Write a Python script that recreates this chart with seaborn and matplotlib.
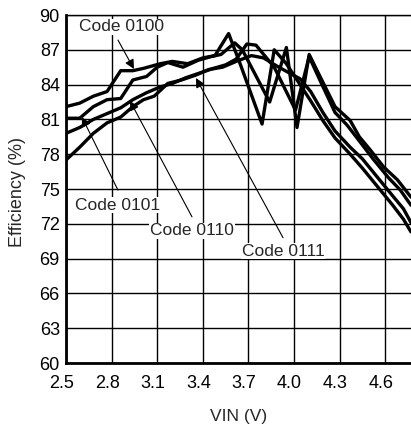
import numpy as np
import pandas as pd
import matplotlib
matplotlib.use("Agg")
import matplotlib.pyplot as plt
import matplotlib.transforms as mtransforms
import seaborn as sns

# efficiency curves (VIN in V, efficiency in %)
vin_0100 = [2.50, 2.59, 2.68, 2.77, 2.86, 2.94, 3.01, 3.12, 3.20, 3.30, 3.40, 3.48, 3.57, 3.64,
            3.79, 3.87, 3.95, 4.04, 4.11, 4.19, 4.27, 4.37, 4.45, 4.55, 4.65, 4.72, 4.77]
eff_0100 = [82.1, 82.4, 83.0, 83.4, 85.2, 85.2, 85.4, 85.8, 86.0, 85.8, 86.3, 86.5, 88.4, 86.0,
            80.6, 87.0, 85.8, 84.0, 82.6, 80.9, 79.4, 78.0, 76.8, 75.2, 73.6, 72.4, 71.3]

vin_0101 = [2.50, 2.59, 2.68, 2.77, 2.86, 2.94, 3.03, 3.10, 3.17, 3.27, 3.37, 3.45, 3.52, 3.61,
            3.66, 3.84, 3.95, 4.02, 4.10, 4.16, 4.27, 4.37, 4.43, 4.50, 4.59, 4.68, 4.77]
eff_0101 = [81.1, 81.1, 82.1, 82.7, 82.8, 84.4, 84.7, 85.5, 85.9, 85.5, 86.1, 86.4, 86.6, 87.6,
            87.0, 82.5, 87.2, 80.3, 86.6, 85.0, 82.1, 80.9, 79.5, 78.4, 76.9, 75.8, 74.3]

vin_0110 = [2.50, 2.59, 2.68, 2.77, 2.86, 2.94, 3.03, 3.12, 3.20, 3.29, 3.38, 3.47, 3.55, 3.62,
            3.69, 3.75, 3.87, 4.01, 4.10, 4.17, 4.27, 4.35, 4.45, 4.52, 4.62, 4.70, 4.77]
eff_0110 = [79.8, 80.3, 81.0, 81.5, 82.0, 82.7, 83.3, 83.8, 84.1, 84.6, 85.0, 85.4, 85.7, 86.2,
            87.5, 87.4, 85.5, 81.8, 86.4, 84.4, 81.6, 80.5, 78.8, 77.6, 76.0, 74.9, 73.6]

vin_0111 = [2.50, 2.59, 2.68, 2.77, 2.86, 2.94, 3.01, 3.08, 3.17, 3.26, 3.35, 3.44, 3.53, 3.62,
            3.72, 3.80, 3.90, 4.04, 4.11, 4.19, 4.27, 4.37, 4.45, 4.55, 4.65, 4.72, 4.77]
eff_0111 = [77.5, 78.6, 79.8, 80.7, 81.2, 82.1, 82.7, 83.0, 84.1, 84.4, 84.8, 85.3, 85.5, 86.0,
            86.5, 86.3, 85.5, 84.5, 83.4, 81.6, 80.0, 78.6, 77.6, 76.0, 74.4, 73.3, 72.1]

codes = ["Code 0100", "Code 0101", "Code 0110", "Code 0111"]
x_ticks = [2.5, 2.8, 3.1, 3.4, 3.7, 4.0, 4.3, 4.6]
y_ticks = [60, 63, 66, 69, 72, 75, 78, 81, 84, 87, 90]

frames = []
for code, v, e in zip(codes, [vin_0100, vin_0101, vin_0110, vin_0111],
                      [eff_0100, eff_0101, eff_0110, eff_0111]):
    frames.append(pd.DataFrame({"vin": v, "eff": e, "code": code}))
df = pd.concat(frames, ignore_index=True)

sns.set_style("white")
plt.rcParams["font.family"] = ["Liberation Sans", "DejaVu Sans"]

fig = plt.figure(figsize=(4.11, 4.30), dpi=100)
ax = fig.add_axes([66 / 411, 67 / 430, 1 - 66 / 411, 348 / 430])

sns.lineplot(data=df, x="vin", y="eff", hue="code", palette=["black"] * 4,
             sort=False, estimator=None, legend=False, lw=2.4, ax=ax, zorder=3)

ax.set_xlim(2.5, 4.77)
ax.set_ylim(60, 90)
ax.set_xticks(x_ticks)
ax.set_xticklabels([f"{t:.1f}" for t in x_ticks])
ax.set_yticks(y_ticks)
ax.grid(True, color="black", lw=1.0)
ax.tick_params(length=0, labelsize=13, colors="black")
ax.tick_params(axis="x", pad=9)
ax.tick_params(axis="y", pad=4.5)

# x tick labels sit a little left of their gridlines in the reference
shift = mtransforms.ScaledTranslation(-4.5 / 100, 0, fig.dpi_scale_trans)
for lab in ax.get_xticklabels():
    lab.set_transform(lab.get_transform() + shift)

for side in ["left", "bottom"]:
    ax.spines[side].set_linewidth(2.0)
    ax.spines[side].set_color("black")
ax.spines["top"].set_linewidth(1.0)
ax.spines["top"].set_color("black")
ax.spines["right"].set_visible(False)

ax.set_xlabel("VIN (V)", fontsize=12.5)
ax.set_ylabel("Efficiency (%)", fontsize=13)
ax.xaxis.set_label_coords(0.5, -0.133)
ax.yaxis.set_label_coords(-0.117, 0.49)

# labels with arrows
label_pos = [(2.868, 88.97), (2.836, 73.6), (3.329, 71.4), (3.928, 69.65)]
arrow_tail = [(2.842, 87.84), (2.842, 74.9), (3.329, 72.6), (3.928, 70.8)]
arrow_tip = [(2.947, 85.34), (2.605, 81.2), (2.921, 82.6), (3.355, 84.57)]

for code, (lx, ly), tail, tip in zip(codes, label_pos, arrow_tail, arrow_tip):
    ax.annotate("", xy=tip, xytext=tail,
                arrowprops=dict(arrowstyle="-|>", color="black", lw=0.8,
                                mutation_scale=14, shrinkA=0, shrinkB=0),
                zorder=4)
    ax.text(lx, ly, code, fontsize=12.5, ha="center", va="center", zorder=5,
            bbox=dict(facecolor="white", edgecolor="none", pad=0.5))

fig.savefig("out.png", dpi=100)
